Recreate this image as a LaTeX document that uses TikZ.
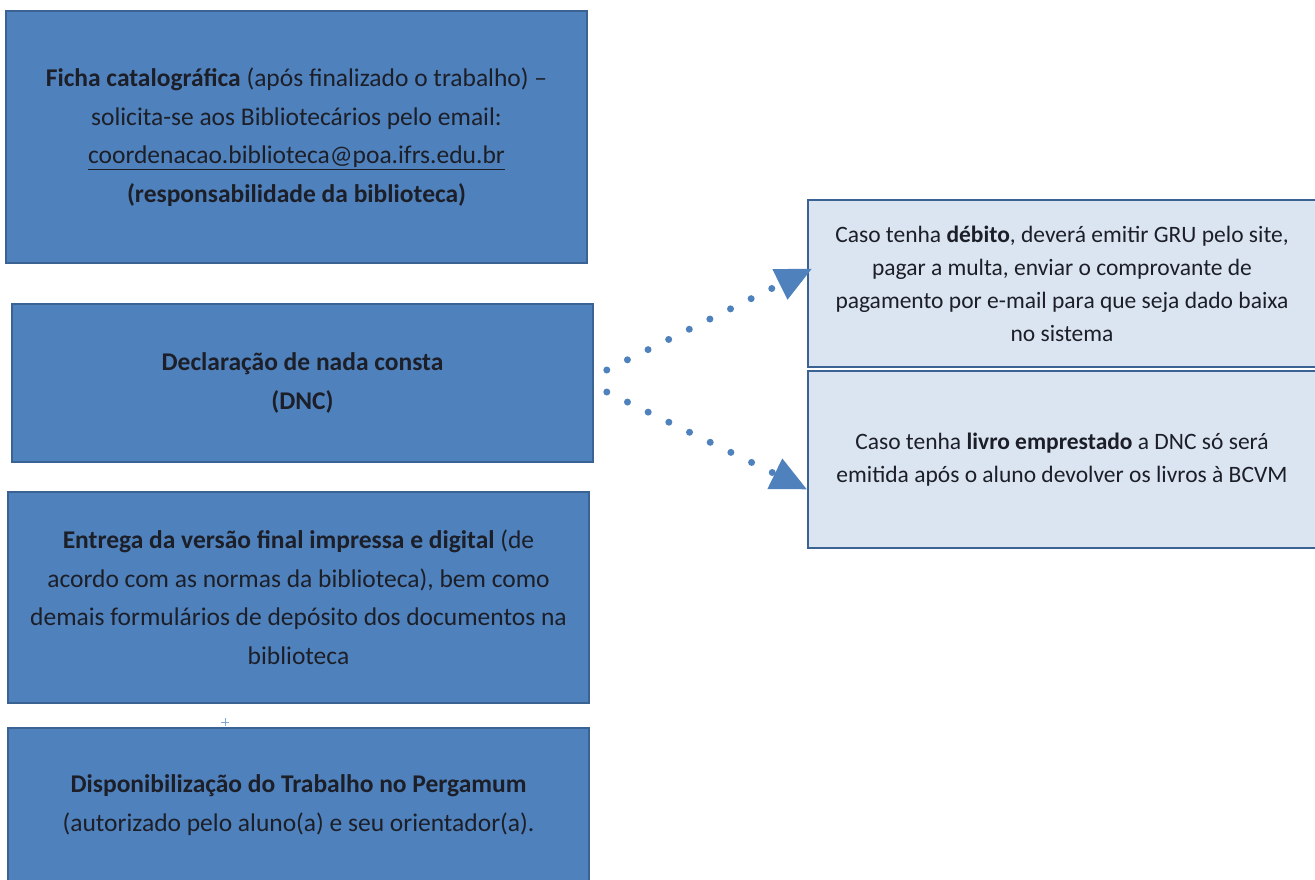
\documentclass[tikz,border=0pt]{standalone}
\usepackage{fontspec}
\setmainfont{Carlito}
\usetikzlibrary{arrows.meta}
\definecolor{bluefill}{HTML}{4F81BD}
\definecolor{blueedge}{HTML}{3A6393}
\definecolor{lightfill}{HTML}{DBE5F1}
\definecolor{txt}{HTML}{1C1F28}
\begin{document}
\begin{tikzpicture}[x=1pt,y=-1pt,
  darkbox/.style={draw=blueedge,line width=1.6pt,fill=bluefill,minimum width=581pt,inner sep=0pt,align=center,text=txt,font=\fontsize{25.5}{38.5}\selectfont},
  lightbox/.style={draw=blueedge,line width=1.6pt,fill=lightfill,minimum width=508pt,inner sep=0pt,align=center,text=txt,font=\fontsize{23.5}{33}\selectfont},
  dotarrow/.style={draw=bluefill,line width=7pt,line cap=round,dash pattern=on 0pt off 23pt,-{Triangle[length=36pt,width=32pt,fill=bluefill]}}
]
\useasboundingbox (0,0) rectangle (1315,879);
\node[darkbox,minimum height=252pt] (fc) at (296.5,137) {\textbf{Ficha catalográfica} (após finalizado o trabalho) –\\solicita-se aos Bibliotecários pelo email:\\\underline{coordenacao.biblioteca@poa.ifrs.edu.br}\\\textbf{(responsabilidade da biblioteca)}};
\node[darkbox,minimum height=158pt] (dnc) at (302.5,383) {\textbf{Declaração de nada consta}\\\textbf{(DNC)}};
\node[darkbox,minimum height=211pt] (ent) at (298.5,597.5) {\textbf{Entrega da versão final impressa e digital} (de\\acordo com as normas da biblioteca), bem como\\demais formulários de depósito dos documentos na\\biblioteca};
\node[darkbox,minimum height=154pt] (disp) at (298.5,805) {\textbf{Disponibilização do Trabalho no Pergamum}\\(autorizado pelo aluno(a) e seu orientador(a).};
\node[lightbox,minimum height=167pt] (deb) at (1062,283.5) {Caso tenha \textbf{débito}, deverá emitir GRU pelo site,\\pagar a multa, enviar o comprovante de\\pagamento por e-mail para que seja dado baixa\\no sistema};
\node[lightbox,minimum height=177pt] (liv) at (1062,459.5) {Caso tenha \textbf{livro emprestado} a DNC só será\\emitida após o aluno devolver os livros à BCVM};
\draw[dotarrow] ([xshift=13pt,yshift=13pt]dnc.east) -- ([xshift=5pt,yshift=15pt]deb.west);
\draw[dotarrow] ([xshift=13pt,yshift=-9pt]dnc.east) -- ([yshift=-30pt]liv.west);
\coordinate (plus) at (225,722);
\draw[bluefill!70,line width=1pt] ([xshift=-4pt]plus) -- ([xshift=4pt]plus) ([yshift=-4pt]plus) -- ([yshift=4pt]plus);
\end{tikzpicture}
\end{document}
